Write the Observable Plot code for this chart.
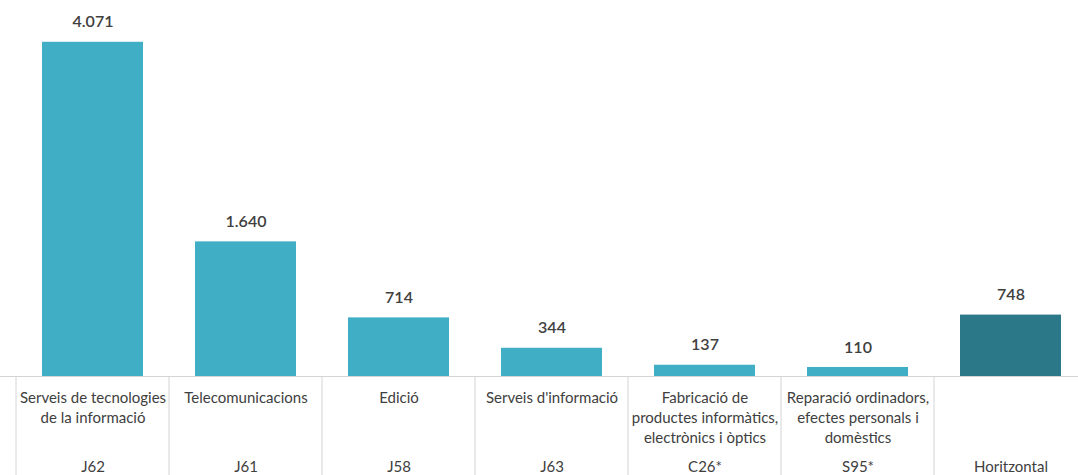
<!DOCTYPE html>
<html>
<head>
<meta charset="utf-8">
<script src="https://cdn.jsdelivr.net/npm/d3@7"></script>
<script src="https://cdn.jsdelivr.net/npm/@observablehq/plot@0.6"></script>
<style>
  html, body { margin: 0; padding: 0; background: #fff; }
  #chart svg { display: block; }
</style>
</head>
<body>
<div id="chart"></div>
<script>
const codes = ["J62", "J61", "J58", "J63", "C26*", "S95*", "Horitzontal"];
const names = [
  "Serveis de tecnologies\nde la informació",
  "Telecomunicacions",
  "Edició",
  "Serveis d'informació",
  "Fabricació de\nproductes informàtics,\nelectrònics i òptics",
  "Reparació ordinadors,\nefectes personals i\ndomèstics",
  ""
];
const values = [4071, 1640, 714, 344, 137, 110, 748];

const data = codes.map((c, i) => ({code: c, name: names[i], value: values[i]}));

const fmt = d3.formatLocale({decimal: ",", thousands: ".", grouping: [3], currency: ["", " €"]}).format(",");

const light = "#40AFC5";
const dark = "#2A7888";
const textColor = "#404040";
const font = "Lato, 'Open Sans', sans-serif";

const chart = Plot.plot({
  width: 1078,
  height: 475,
  marginTop: 0,
  marginBottom: 99,
  marginLeft: 0,
  marginRight: 0,
  style: {fontFamily: font, background: "#fff"},
  x: {domain: codes, range: [13, 1090], paddingInner: 0.34, paddingOuter: 0.17, axis: null},
  y: {domain: [0, 4580], axis: null},
  marks: [
    Plot.ruleY([0], {stroke: "#d4d4d4", strokeWidth: 1}),
    Plot.ruleX(data, {x: "code", y1: 0, y2: -1400, dx: -77, stroke: "#d4d4d4", strokeWidth: 1}),
    Plot.barY(data, {x: "code", y: "value", fill: d => d.code === "Horitzontal" ? dark : light}),
    Plot.text(data, {x: "code", y: "value", text: d => fmt(d.value), dy: -20, fontSize: 16, fontWeight: 600, fill: textColor}),
    Plot.text(data, {x: "code", y: 0, text: "name", lineAnchor: "top", dy: 12, fontSize: 15, lineHeight: 1.33, fill: textColor}),
    Plot.text(data, {x: "code", y: 0, text: "code", dy: 91, fontSize: 15, fill: textColor})
  ]
});
document.getElementById("chart").appendChild(chart);
</script>
</body>
</html>
